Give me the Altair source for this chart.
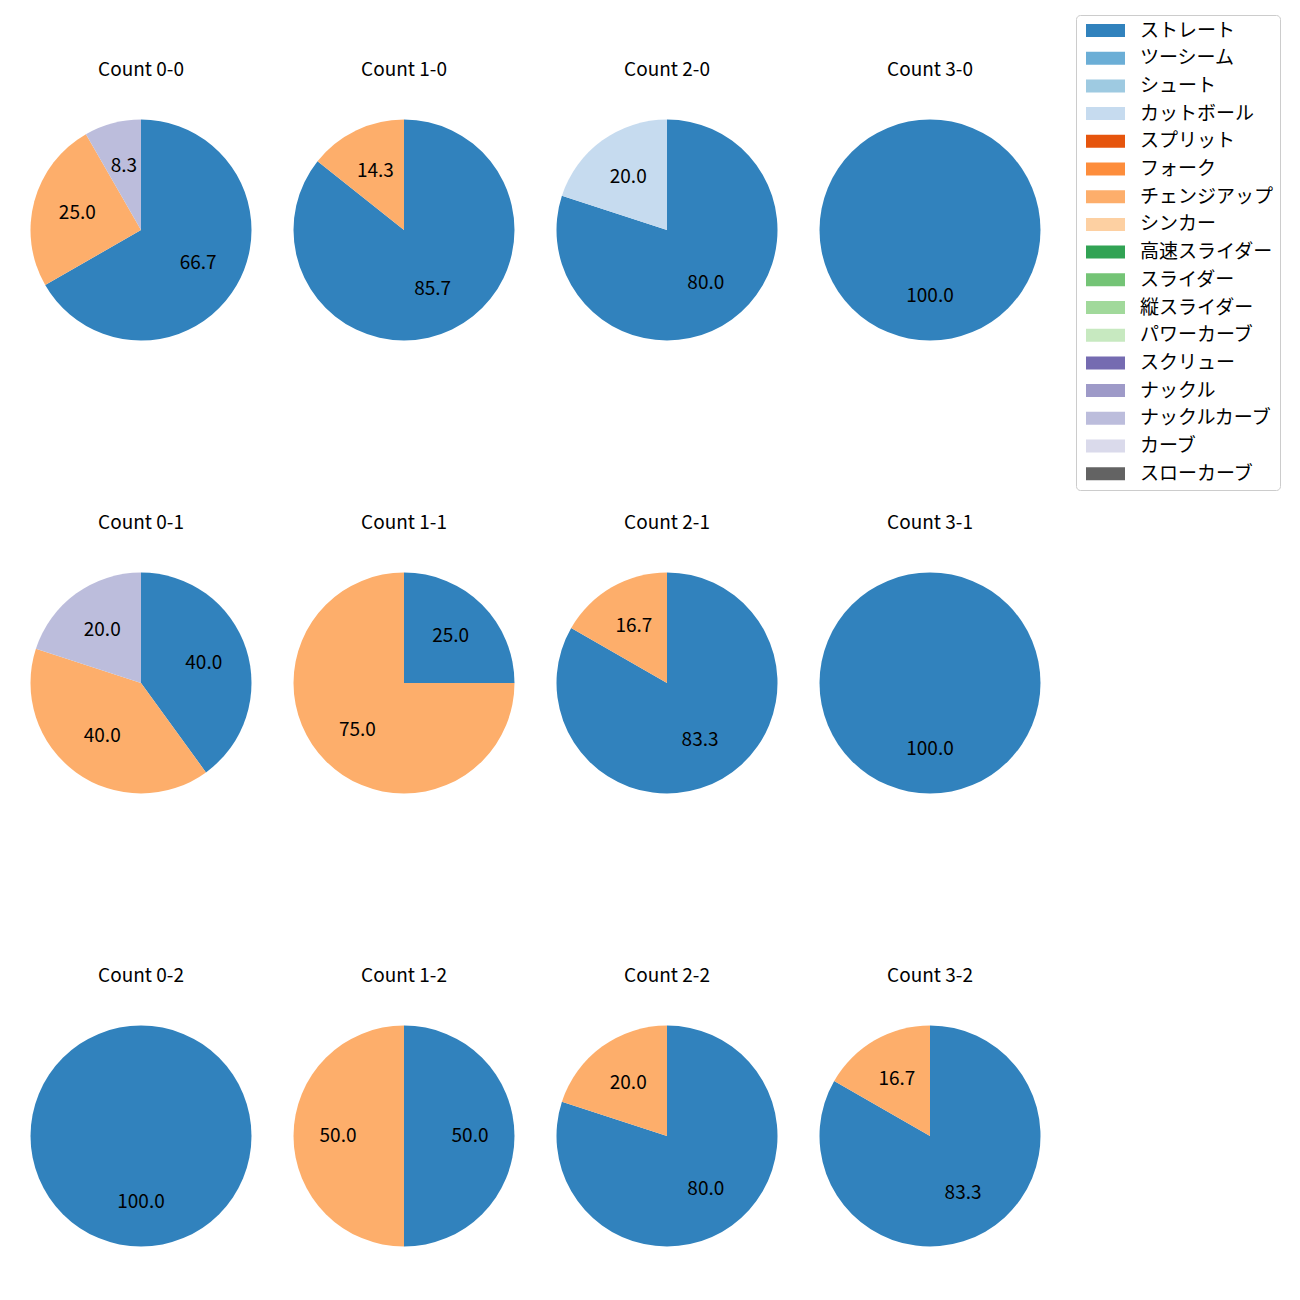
import altair as alt
import pandas as pd

# Panel labels (row-major as shown)
counts = ["0-0", "1-0", "2-0", "3-0",
          "0-1", "1-1", "2-1", "3-1",
          "0-2", "1-2", "2-2", "3-2"]

# Pitch type shares (%) per panel
straight = [66.7, 85.7, 80.0, 100.0, 40.0, 25.0, 83.3, 100.0, 100.0, 50.0, 80.0, 83.3]
cutter = [0, 0, 20.0, 0, 0, 0, 0, 0, 0, 0, 0, 0]
changeup = [25.0, 14.3, 0, 0, 40.0, 75.0, 16.7, 0, 0, 50.0, 20.0, 16.7]
knuckle_curve = [8.3, 0, 0, 0, 20.0, 0, 0, 0, 0, 0, 0, 0]

pitch_types = ["ストレート", "ツーシーム", "シュート", "カットボール", "スプリット", "フォーク",
               "チェンジアップ", "シンカー", "高速スライダー", "スライダー", "縦スライダー",
               "パワーカーブ", "スクリュー", "ナックル", "ナックルカーブ", "カーブ", "スローカーブ"]
pitch_colors = ["#3182bd", "#6baed6", "#9ecae1", "#c6dbef", "#e6550d", "#fd8d3c",
                "#fdae6b", "#fdd0a2", "#31a354", "#74c476", "#a1d99b", "#c7e9c0",
                "#756bb1", "#9e9ac8", "#bcbddc", "#dadaeb", "#636363"]

series = {"ストレート": straight, "カットボール": cutter,
          "チェンジアップ": changeup, "ナックルカーブ": knuckle_curve}

FONT = "Noto Sans CJK JP"
W, H = 263, 452.5

color_scale = alt.Scale(domain=pitch_types, range=pitch_colors)
legend = alt.Legend(
    title=None, orient="none", legendX=1068, legendY=7,
    symbolType="M-0.846,-1H5.154V1H-0.846Z", symbolSize=169,
    symbolStrokeWidth=0, symbolOpacity=1,
    labelFont=FONT, labelFontSize=19, labelColor="#000000",
    labelOffset=39, rowPadding=7.7, padding=6,
    strokeColor="#cccccc", fillColor="#ffffff", cornerRadius=4,
    values=pitch_types, labelLimit=300,
)


def panel(i):
    rows = []
    for name in pitch_types:
        if name in series and series[name][i] > 0:
            rows.append({"pitch": name, "value": series[name][i],
                         "ord": pitch_types.index(name)})
    df = pd.DataFrame(rows)
    base = alt.Chart(df).encode(
        theta=alt.Theta("value:Q", stack=True),
        order=alt.Order("ord:Q"),
    )
    arcs = base.mark_arc(outerRadius=110.5).encode(
        x=alt.value(133), y=alt.value(222),
        color=alt.Color("pitch:N", scale=color_scale, legend=legend),
    )
    labels = base.mark_text(radius=66, font=FONT, fontSize=19, color="#000000",
                            align="center", baseline="middle").encode(
        x=alt.value(133), y=alt.value(222),
        text=alt.Text("value:Q", format=".1f"),
        detail="pitch:N",
    )
    title = alt.Chart(pd.DataFrame({"t": ["Count " + counts[i]]})).mark_text(
        font=FONT, fontSize=19, color="#000000", align="center", baseline="middle"
    ).encode(x=alt.value(133), y=alt.value(62), text="t:N")
    return alt.layer(arcs, labels, title).properties(width=W, height=H)


rows = [alt.hconcat(*[panel(r * 4 + c) for c in range(4)], spacing=0) for r in range(3)]
chart = alt.vconcat(*rows, spacing=0).properties(
    padding={"left": 0, "top": 0, "right": 0, "bottom": 0},
    background="white",
).configure_view(stroke=None, strokeWidth=0)

chart.save("out.html", embed_options={"renderer": "svg", "actions": False})
